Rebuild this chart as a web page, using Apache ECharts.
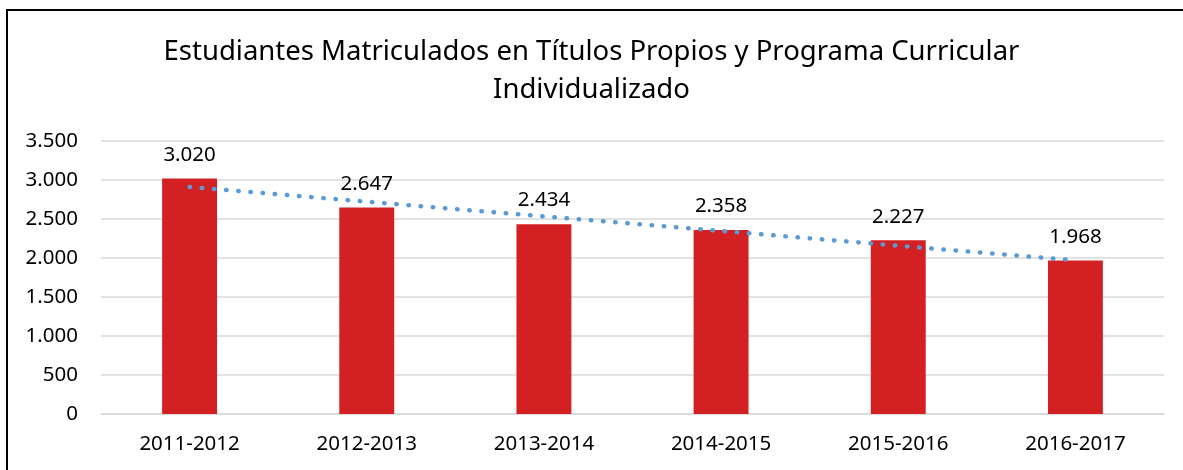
<!DOCTYPE html>
<html>
<head>
<meta charset="utf-8">
<script src="https://cdn.jsdelivr.net/npm/echarts@6/dist/echarts.min.js"></script>
<style>
html, body { margin: 0; padding: 0; background: #fff; overflow: hidden; }
.frame {
    position: absolute;
    left: 6px;
    top: 9px;
    width: 1300px;
    height: 600px;
    border: 2px solid #000;
    box-sizing: border-box;
}
#chart { position: absolute; left: 0; top: 0; width: 1183px; height: 470px; }
</style>
</head>
<body>
<div class="frame"></div>
<div id="chart"></div>
<script>
// 数据
const categories = ['2011-2012', '2012-2013', '2013-2014', '2014-2015', '2015-2016', '2016-2017']
const students = [3020, 2647, 2434, 2358, 2227, 1968]
// línea de tendencia
const trend = [2910, 2722, 2534, 2346, 2158, 1970]
const yTicks = [0, 500, 1000, 1500, 2000, 2500, 3000, 3500]

const fontFamily = '"Noto Sans", "Open Sans", sans-serif'

// separador de miles con punto
const fmt = (v) => String(v).replace(/\B(?=(\d{3})+(?!\d))/g, '.')

const myChart = echarts.init(document.getElementById('chart'))

const option = {
    backgroundColor: 'transparent',
    animation: false,
    title: {
        text: 'Estudiantes Matriculados en Títulos Propios y Programa Curricular\nIndividualizado',
        left: 'center',
        top: 28,
        textStyle: {
            color: '#000',
            fontFamily: fontFamily,
            fontWeight: 'normal',
            fontSize: 27.5,
            lineHeight: 38
        }
    },
    grid: {
        left: 101,
        right: 19,
        top: 141,
        bottom: 56
    },
    xAxis: {
        type: 'category',
        data: categories,
        axisLine: {
            lineStyle: { color: '#D9D9D9', width: 1.5 }
        },
        axisTick: { show: false },
        axisLabel: {
            color: '#000',
            fontFamily: fontFamily,
            fontSize: 20.5,
            margin: 20
        }
    },
    yAxis: {
        type: 'value',
        min: yTicks[0],
        max: yTicks[yTicks.length - 1],
        interval: 500,
        axisLine: { show: false },
        axisTick: { show: false },
        axisLabel: {
            color: '#000',
            fontFamily: fontFamily,
            fontSize: 20.5,
            margin: 23,
            formatter: fmt
        },
        splitLine: {
            lineStyle: { color: '#D9D9D9', width: 1.5 }
        }
    },
    series: [
        {
            name: 'Estudiantes',
            type: 'bar',
            data: students,
            barWidth: '31%',
            itemStyle: { color: '#D32023' },
            label: {
                show: true,
                position: 'top',
                distance: 13,
                color: '#000',
                fontFamily: fontFamily,
                fontSize: 20.5,
                formatter: (p) => fmt(p.value)
            }
        },
        {
            name: 'Tendencia',
            type: 'line',
            data: trend,
            symbol: 'none',
            z: 5,
            lineStyle: {
                color: '#5B9BD5',
                width: 4.5,
                type: [0.5, 11.7],
                cap: 'round'
            }
        }
    ]
}

myChart.setOption(option)
</script>
</body>
</html>
